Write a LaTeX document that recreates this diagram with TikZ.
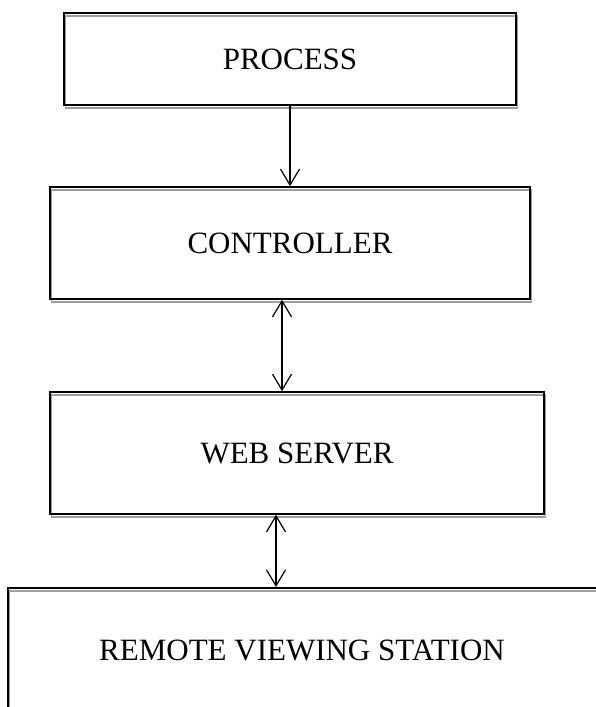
\documentclass[tikz,border=0pt]{standalone}
\usepackage{fontspec}
\setmainfont{Liberation Serif}
\usetikzlibrary{shadows, arrows.meta, positioning}

\begin{document}
\begin{tikzpicture}[
                x=1pt, y=-1pt,
                >={Straight Barb[length=16pt,width=19pt,line width=1.2pt]},
                box/.style={
                    draw,
                    line width=1.5pt,
                    inner sep=0pt,
                    align=center,
                    drop shadow={shadow xshift=1.5pt, shadow yshift=-3pt,
                                 fill=none, draw=black!38, line width=1.5pt, opacity=1}
                },
                arr/.style={
                    line width=1.3pt
                },
                every node/.style={font=\fontsize{31}{37}\selectfont}
            ]

                \useasboundingbox (0,0) rectangle (596,707);
                \clip (0,0) rectangle (596,707);

                \node[box, minimum width=452pt, minimum height=92pt] (process) at (290,59) {PROCESS};
                \node[box, minimum width=480pt, minimum height=112pt] (controller) at (290,243) {CONTROLLER};
                \node[box, minimum width=494pt, minimum height=122pt] (webserver) at (297,453) {WEB SERVER};
                \node[box, minimum width=700pt, minimum height=200pt, anchor=north west] (remote) at (7,587) {};
                \node (remotetxt) at (302,650) {REMOTE VIEWING STATION};

                \draw[arr,->] (process.south) -- (controller.north);
                \draw[arr,<->] ([xshift=-8pt]controller.south) -- ([xshift=-15pt]webserver.north);
                \draw[arr,<->] ([xshift=-21pt]webserver.south) -- ([xshift=269pt]remote.north west);

            \end{tikzpicture}
\end{document}
